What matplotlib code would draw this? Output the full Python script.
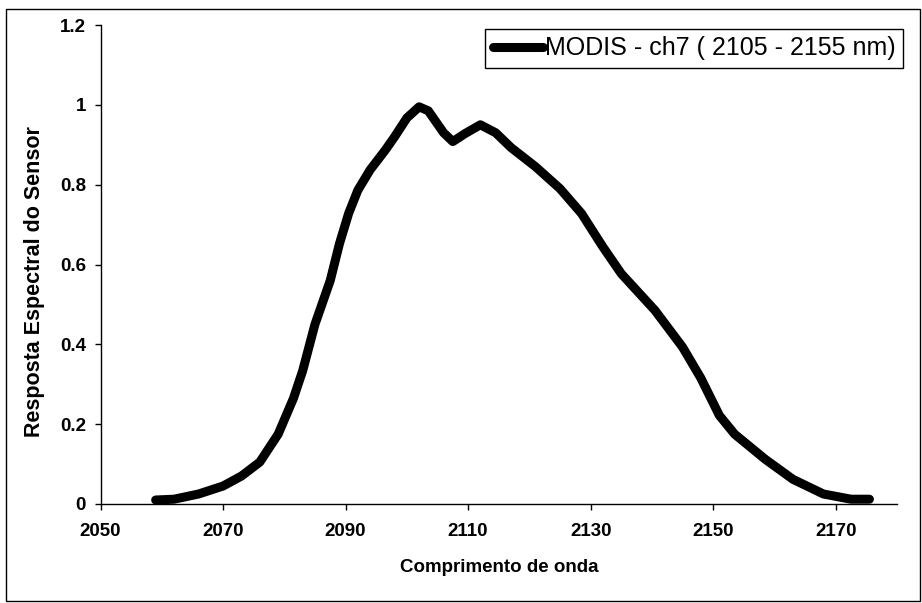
import matplotlib
matplotlib.use("Agg")
import matplotlib.pyplot as plt
from matplotlib.patches import Rectangle

plt.rcParams['font.family'] = ['Liberation Sans', 'DejaVu Sans']

# Wavelength (nm) and spectral response
wavelength = [2059, 2062, 2066, 2070, 2073, 2076, 2079, 2081.5, 2083, 2085,
              2087.5, 2089, 2090.5, 2092, 2094, 2096.5, 2098, 2100, 2102, 2103.5,
              2106, 2107.5, 2109.5, 2112, 2114.5, 2117, 2121, 2125, 2128.5, 2132,
              2135, 2140.5, 2145, 2148, 2151, 2153.5, 2158.5, 2163, 2168, 2172.5,
              2175.5]
response = [0.010, 0.012, 0.025, 0.045, 0.070, 0.105, 0.175, 0.265, 0.334, 0.450,
            0.560, 0.652, 0.728, 0.786, 0.837, 0.887, 0.920, 0.967, 0.995, 0.985,
            0.930, 0.908, 0.928, 0.950, 0.930, 0.893, 0.845, 0.790, 0.728, 0.644,
            0.577, 0.485, 0.393, 0.315, 0.222, 0.175, 0.112, 0.062, 0.025, 0.012,
            0.012]

x_ticks = [2050, 2070, 2090, 2110, 2130, 2150, 2170]
y_ticks = [0, 0.2, 0.4, 0.6, 0.8, 1, 1.2]
y_tick_labels = ['0', '0.2', '0.4', '0.6', '0.8', '1', '1.2']
series_label = 'MODIS - ch7 ( 2105 - 2155 nm)'
x_title = 'Comprimento de onda'
y_title = 'Resposta Espectral do Sensor'

W, H = 922, 603
fig = plt.figure(figsize=(W / 100, H / 100), dpi=100)
fig.patch.set_facecolor('white')

# outer chart border
fig.patches.append(Rectangle((6 / W, 1 - 601 / H), (920 - 6) / W, (601 - 9) / H,
                             transform=fig.transFigure, fill=False,
                             edgecolor='black', linewidth=1.0))

ax = fig.add_axes([100.5 / W, 1 - 504 / H, (897 - 100.5) / W, (504 - 25) / H])
ax.plot(wavelength, response, color='black', linewidth=6.5,
        solid_capstyle='round', solid_joinstyle='round', label=series_label)

ax.set_xlim(2050, 2180)
ax.set_ylim(0, 1.2)
ax.set_xticks(x_ticks)
ax.set_xticklabels([str(v) for v in x_ticks], fontsize=13.5, fontweight='bold')
ax.set_yticks(y_ticks)
ax.set_yticklabels(y_tick_labels, fontsize=13.5, fontweight='bold')

for s in ['top', 'right']:
    ax.spines[s].set_visible(False)
for s in ['left', 'bottom']:
    ax.spines[s].set_linewidth(1.0)
    ax.spines[s].set_color('black')

ax.tick_params(axis='x', direction='out', length=4.5, width=1, pad=9)
ax.tick_params(axis='y', direction='out', length=4.5, width=1, pad=6)

ax.set_xlabel(x_title, fontsize=13.5, fontweight='bold', labelpad=14)
ax.set_ylabel(y_title, fontsize=15.5, fontweight='bold')
ax.yaxis.set_label_coords((45 - 100.5) / 796.5, (504 - 282) / 479)

leg = ax.legend(loc='upper left', bbox_to_anchor=(485 / W, 1 - 29 / H),
                bbox_transform=fig.transFigure, fontsize=18, frameon=True,
                fancybox=False, edgecolor='black', framealpha=1,
                handlelength=2.0, handletextpad=0.1, borderpad=0.3,
                borderaxespad=0)
leg.get_frame().set_linewidth(1.0)

fig.savefig('out.png', dpi=100, facecolor='white')
